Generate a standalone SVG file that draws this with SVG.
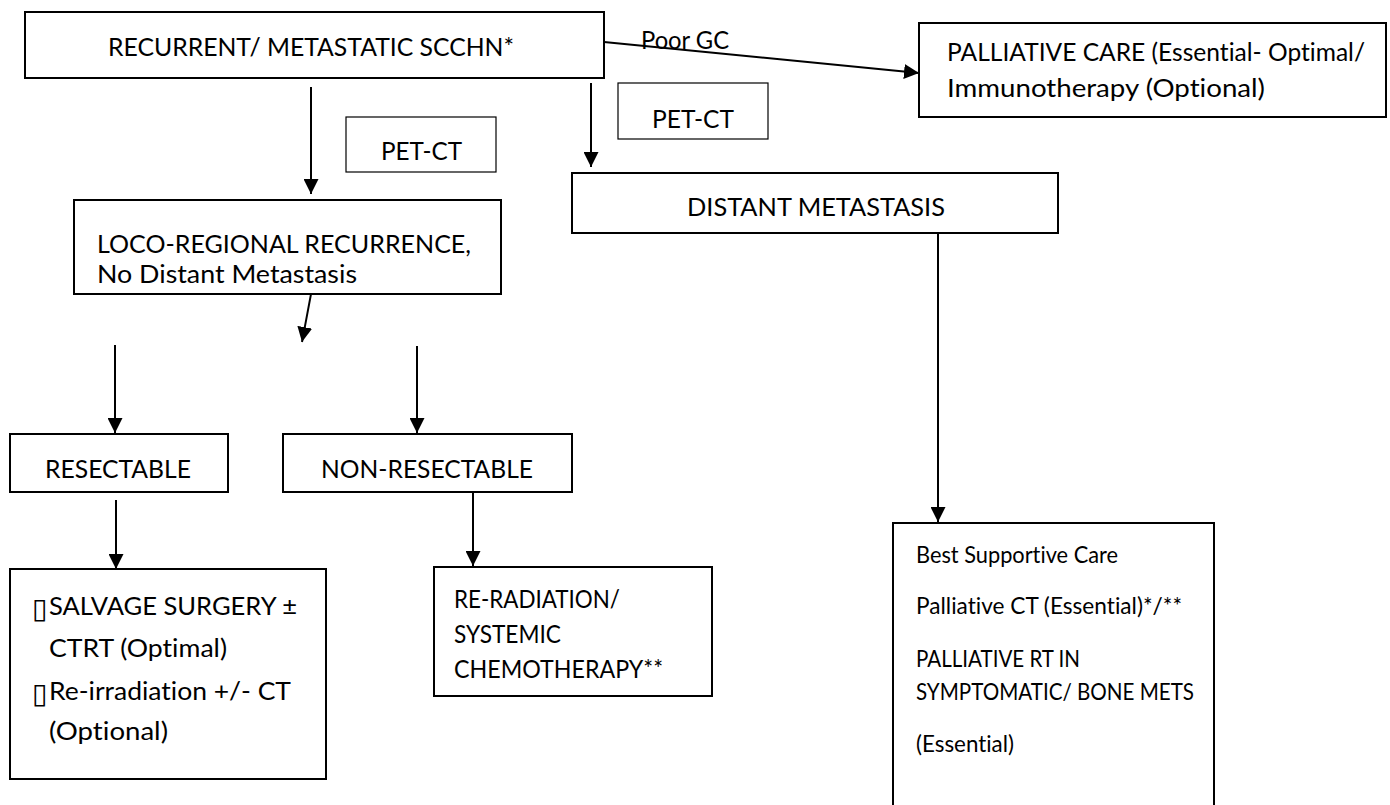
<svg xmlns="http://www.w3.org/2000/svg" width="1390" height="805" viewBox="0 0 1390 805">
  <style>
    .box { fill: #ffffff; stroke: #000000; stroke-width: 2; }
    .thin { fill: #ffffff; stroke: #000000; stroke-width: 1.2; }
    text { font-family: Lato, "Liberation Sans", Arial, sans-serif; font-size: 25px; fill: #000000; font-variant-ligatures: none; }
    .small { font-size: 22.5px; }
    .bullet { font-family: "DejaVu Sans", sans-serif; font-size: 28px; }
    .edge { fill: none; stroke: #000000; stroke-width: 2; marker-end: url(#arrow); }
  </style>
  <defs>
    <marker id="arrow" markerUnits="userSpaceOnUse" markerWidth="15" markerHeight="15" refX="15" refY="7.5" orient="auto">
      <path d="M0,0 L15,7.5 L0,15 Z" fill="#000000"/>
    </marker>
  </defs>

  <rect width="1390" height="805" fill="#ffffff"/>

  <!-- connectors -->
  <g id="connectors">
    <line class="edge" x1="604" y1="42" x2="919" y2="73"/>
    <line class="edge" x1="311" y1="87" x2="311" y2="194"/>
    <line class="edge" x1="591" y1="83" x2="591" y2="167"/>
    <line class="edge" x1="311" y1="294" x2="302" y2="342"/>
    <line class="edge" x1="115" y1="345" x2="115" y2="433"/>
    <line class="edge" x1="417" y1="346" x2="417" y2="433"/>
    <line class="edge" x1="116" y1="500" x2="116" y2="569"/>
    <line class="edge" x1="473" y1="492" x2="473" y2="566"/>
    <line class="edge" x1="938" y1="233" x2="938" y2="522"/>
    <text x="641" y="49" textLength="88" lengthAdjust="spacingAndGlyphs">Poor GC</text>
  </g>

  <g id="recurrent">
    <rect class="box" x="25" y="12" width="579" height="66"/>
    <text x="108" y="56" textLength="406" lengthAdjust="spacingAndGlyphs">RECURRENT/ METASTATIC SCCHN*</text>
  </g>

  <g id="palliative-care">
    <rect class="box" x="919" y="23" width="467" height="94"/>
    <text x="947" y="61" textLength="418" lengthAdjust="spacingAndGlyphs">PALLIATIVE CARE (Essential- Optimal/</text>
    <text x="947" y="97" textLength="318" lengthAdjust="spacingAndGlyphs">Immunotherapy (Optional)</text>
  </g>

  <g id="pet-ct-1">
    <rect class="thin" x="346" y="117" width="150" height="55"/>
    <text x="381" y="160" textLength="81" lengthAdjust="spacingAndGlyphs">PET-CT</text>
  </g>

  <g id="pet-ct-2">
    <rect class="thin" x="618" y="83" width="150" height="56"/>
    <text x="652" y="128" textLength="82" lengthAdjust="spacingAndGlyphs">PET-CT</text>
  </g>

  <g id="loco-regional">
    <rect class="box" x="74" y="200" width="427" height="94"/>
    <text x="97" y="253" textLength="374" lengthAdjust="spacingAndGlyphs">LOCO-REGIONAL RECURRENCE,</text>
    <text x="97" y="283" textLength="260" lengthAdjust="spacingAndGlyphs">No Distant Metastasis</text>
  </g>

  <g id="distant-metastasis">
    <rect class="box" x="572" y="173" width="486" height="60"/>
    <text x="687" y="216" textLength="258" lengthAdjust="spacingAndGlyphs">DISTANT METASTASIS</text>
  </g>

  <g id="resectable">
    <rect class="box" x="10" y="434" width="218" height="58"/>
    <text x="45" y="478" textLength="146" lengthAdjust="spacingAndGlyphs">RESECTABLE</text>
  </g>

  <g id="non-resectable">
    <rect class="box" x="283" y="434" width="289" height="58"/>
    <text x="321" y="478" textLength="212" lengthAdjust="spacingAndGlyphs">NON-RESECTABLE</text>
  </g>

  <g id="salvage">
    <rect class="box" x="10" y="569" width="316" height="210"/>
    <text class="bullet" x="32" y="618">▯</text>
    <text x="49" y="615" textLength="248" lengthAdjust="spacingAndGlyphs">SALVAGE SURGERY ±</text>
    <text x="49" y="657" textLength="178" lengthAdjust="spacingAndGlyphs">CTRT (Optimal)</text>
    <text class="bullet" x="32" y="703">▯</text>
    <text x="49" y="700" textLength="242" lengthAdjust="spacingAndGlyphs">Re-irradiation +/- CT</text>
    <text x="49" y="740" textLength="119" lengthAdjust="spacingAndGlyphs">(Optional)</text>
  </g>

  <g id="re-radiation">
    <rect class="box" x="434" y="567" width="278" height="129"/>
    <text x="454" y="608" textLength="166" lengthAdjust="spacingAndGlyphs">RE-RADIATION/</text>
    <text x="454" y="643" textLength="107" lengthAdjust="spacingAndGlyphs">SYSTEMIC</text>
    <text x="454" y="678" textLength="209" lengthAdjust="spacingAndGlyphs">CHEMOTHERAPY**</text>
  </g>

  <g id="supportive-care">
    <rect class="box" x="893" y="523" width="321" height="300"/>
    <text class="small" x="916" y="563" textLength="202" lengthAdjust="spacingAndGlyphs">Best Supportive Care</text>
    <text class="small" x="916" y="614" textLength="266" lengthAdjust="spacingAndGlyphs">Palliative CT (Essential)*/**</text>
    <text class="small" x="916" y="667" textLength="164" lengthAdjust="spacingAndGlyphs">PALLIATIVE RT IN</text>
    <text class="small" x="916" y="700" textLength="278" lengthAdjust="spacingAndGlyphs">SYMPTOMATIC/ BONE METS</text>
    <text class="small" x="916" y="752" textLength="98" lengthAdjust="spacingAndGlyphs">(Essential)</text>
  </g>
</svg>
